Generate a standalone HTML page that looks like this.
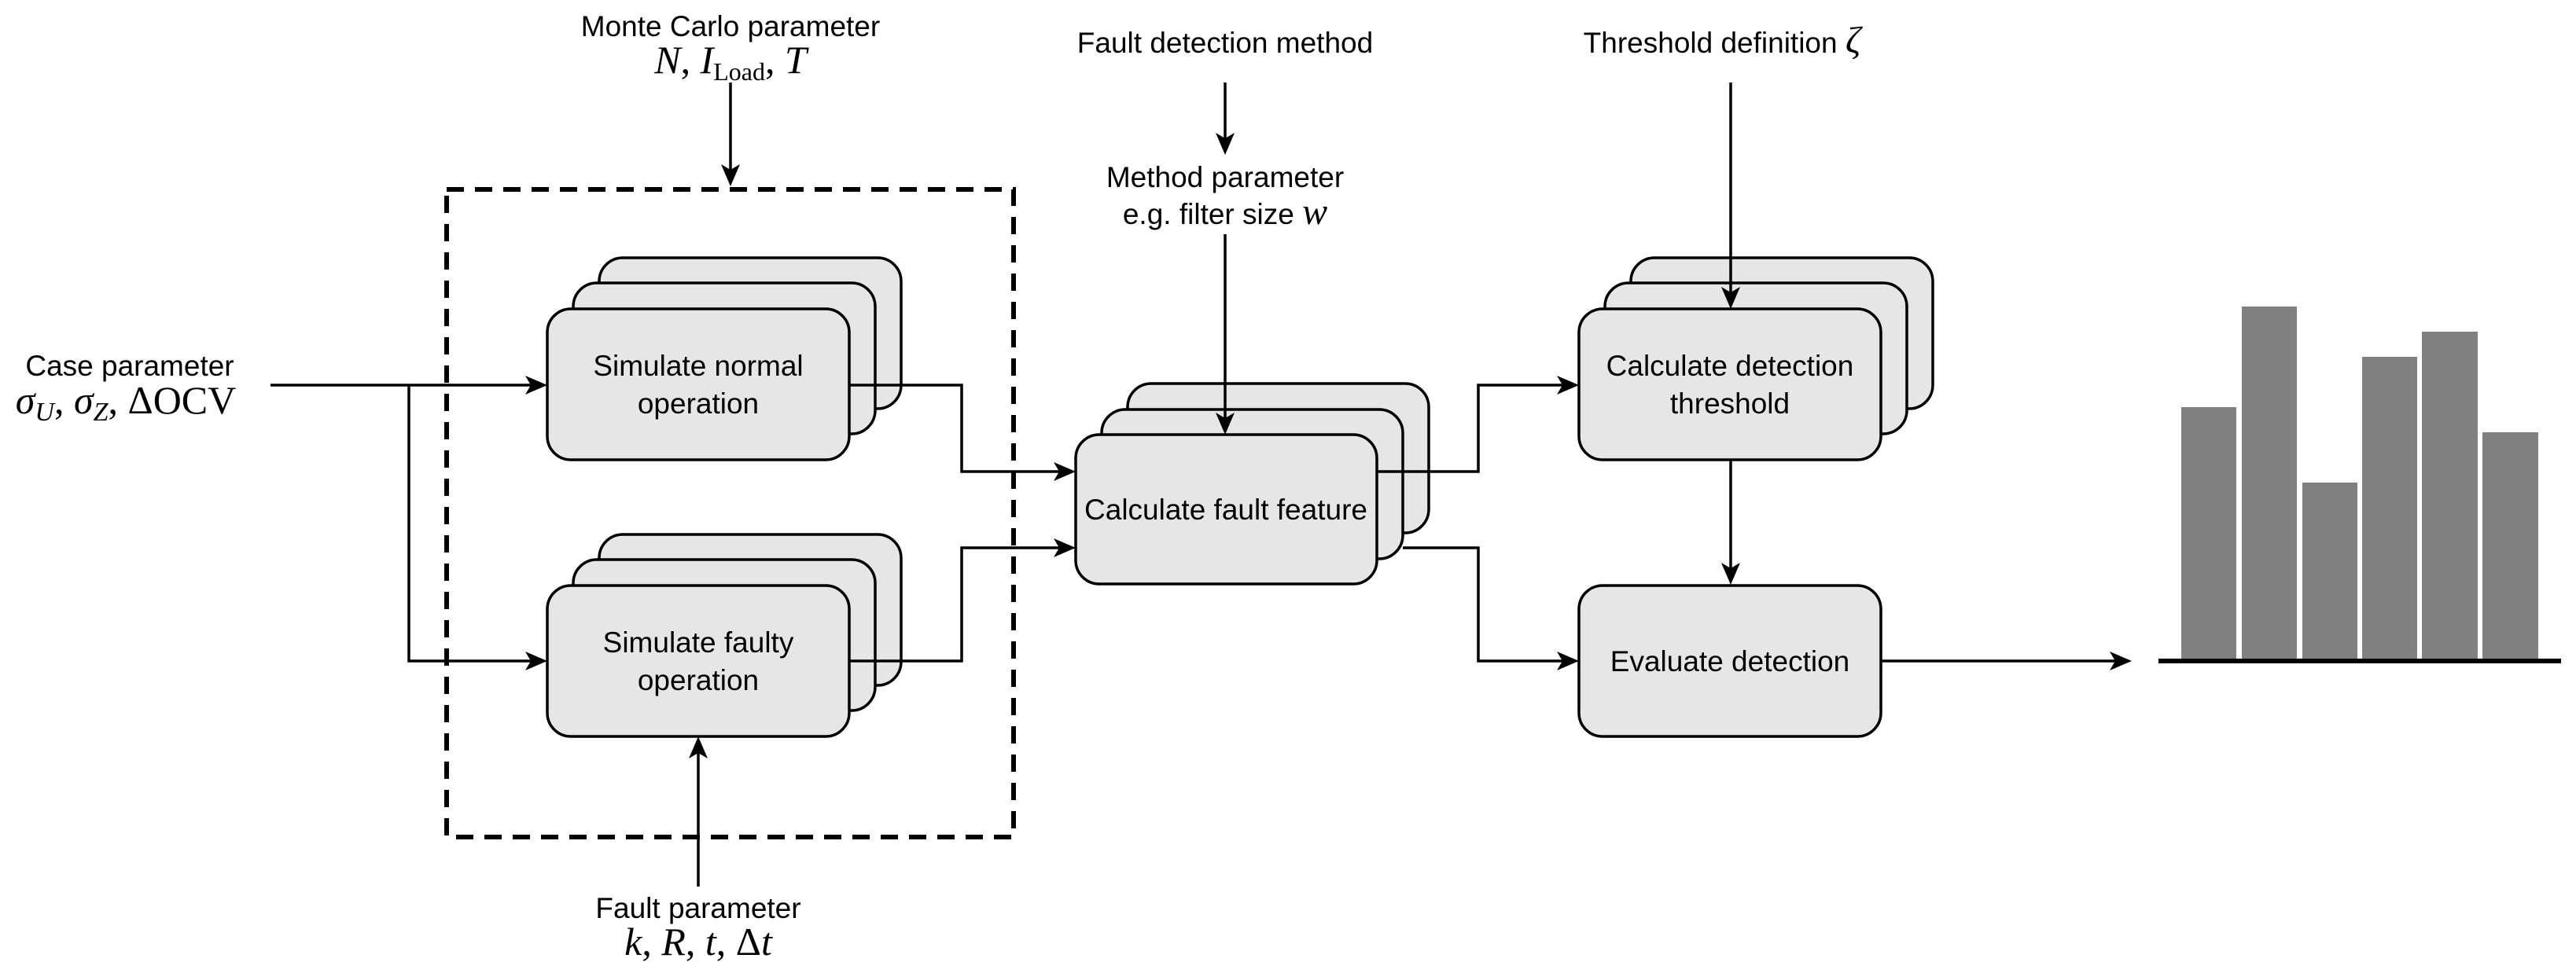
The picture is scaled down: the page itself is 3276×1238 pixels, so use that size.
<!DOCTYPE html>
<html><head><meta charset="utf-8"><style>
html,body{margin:0;padding:0;background:#fff;}
svg{display:block;}
.t{font-family:"Liberation Sans",sans-serif;font-size:37px;fill:#000;text-anchor:middle;}
.m{font-family:"Liberation Serif",serif;font-size:50px;fill:#000;text-anchor:middle;}
.b{fill:#e6e6e6;stroke:#000;stroke-width:3.5;}
.l{fill:none;stroke:#000;stroke-width:3.5;}
</style></head><body>
<svg width="3276" height="1238" viewBox="0 0 3276 1238" xmlns="http://www.w3.org/2000/svg">
<rect x="568" y="241" width="721" height="824" fill="none" stroke="#000" stroke-width="6" stroke-dasharray="22,14"/>

<rect class="b" x="762" y="328" width="384" height="192" rx="30"/>
<rect class="b" x="729" y="360" width="384" height="192" rx="30"/>
<rect class="b" x="696" y="393" width="384" height="192" rx="30"/>
<text class="t" x="888" y="478">Simulate normal</text>
<text class="t" x="888" y="526">operation</text>

<rect class="b" x="762" y="680" width="384" height="192" rx="30"/>
<rect class="b" x="729" y="712" width="384" height="192" rx="30"/>
<rect class="b" x="696" y="745" width="384" height="192" rx="30"/>
<text class="t" x="888" y="830">Simulate faulty</text>
<text class="t" x="888" y="878">operation</text>

<rect class="b" x="1434" y="488" width="383" height="190" rx="30"/>
<rect class="b" x="1401" y="521" width="383" height="190" rx="30"/>
<rect class="b" x="1368" y="553" width="383" height="190" rx="30"/>
<text class="t" x="1559" y="661">Calculate fault feature</text>

<rect class="b" x="2074" y="328" width="384" height="192" rx="30"/>
<rect class="b" x="2041" y="360" width="384" height="192" rx="30"/>
<rect class="b" x="2008" y="393" width="384" height="192" rx="30"/>
<text class="t" x="2200" y="478">Calculate detection</text>
<text class="t" x="2200" y="526">threshold</text>

<rect class="b" x="2008" y="745" width="384" height="192" rx="30"/>
<text class="t" x="2200" y="854">Evaluate detection</text>

<text class="t" x="165" y="478">Case parameter</text>
<text class="m" x="160" y="526"><tspan font-style="italic">σ</tspan><tspan font-style="italic" font-size="34" dy="9">U</tspan><tspan dy="-9">, </tspan><tspan font-style="italic">σ</tspan><tspan font-style="italic" font-size="34" dy="9">Z</tspan><tspan dy="-9">, ΔOCV</tspan></text>

<text class="t" x="929" y="46">Monte Carlo parameter</text>
<text class="m" x="929" y="93"><tspan font-style="italic">N</tspan>, <tspan font-style="italic">I</tspan><tspan font-size="32" dy="9">Load</tspan><tspan dy="-9">, </tspan><tspan font-style="italic">T</tspan></text>

<text class="t" x="888" y="1168">Fault parameter</text>
<text class="m" x="888" y="1215"><tspan font-style="italic">k</tspan>, <tspan font-style="italic">R</tspan>, <tspan font-style="italic">t</tspan>, Δ<tspan font-style="italic">t</tspan></text>

<text class="t" x="1558" y="67">Fault detection method</text>
<text class="t" x="1558" y="238">Method parameter</text>
<text class="t" x="1558" y="285">e.g. filter size <tspan font-family="Liberation Serif" font-style="italic" font-size="48">w</tspan></text>

<text class="t" x="2190" y="67">Threshold definition <tspan font-family="Liberation Serif" font-style="italic" font-size="48">ζ</tspan></text>

<g class="l">
<path d="M344 490 H680"/>
<path d="M520 490 V841 H680"/>
<path d="M1080 490 H1223 V600 H1352"/>
<path d="M1080 841 H1223 V697 H1352"/>
<path d="M929 105 V222"/>
<path d="M888 1128 V953"/>
<path d="M1558 105 V182"/>
<path d="M1558 298 V538"/>
<path d="M1751 600 H1880 V490 H1992"/>
<path d="M1784 697 H1880 V841 H1992"/>
<path d="M2201 105 V377"/>
<path d="M2201 585 V729"/>
<path d="M2392 841 H2693"/>
</g>
<g fill="#000">
<polygon points="696,490 668,478 675,490 668,502"/>
<polygon points="696,841 668,829 675,841 668,853"/>
<polygon points="1368,600 1340,588 1347,600 1340,612"/>
<polygon points="1368,697 1340,685 1347,697 1340,709"/>
<polygon points="929,237 917,209 929,216 941,209"/>
<polygon points="888,937 876,965 888,958 900,965"/>
<polygon points="1558,197 1546,169 1558,176 1570,169"/>
<polygon points="1558,553 1546,525 1558,532 1570,525"/>
<polygon points="2008,490 1980,478 1987,490 1980,502"/>
<polygon points="2008,841 1980,829 1987,841 1980,853"/>
<polygon points="2201,393 2189,365 2201,372 2213,365"/>
<polygon points="2201,744 2189,716 2201,723 2213,716"/>
<polygon points="2711,841 2683,829 2690,841 2683,853"/>
</g>

<g fill="#808080">
<rect x="2774" y="518" width="70" height="323"/>
<rect x="2851" y="390" width="70" height="451"/>
<rect x="2928" y="614" width="70" height="227"/>
<rect x="3004" y="454" width="70" height="387"/>
<rect x="3080" y="422" width="71" height="419"/>
<rect x="3157" y="550" width="71" height="291"/>
</g>
<rect x="2745" y="838" width="512" height="6" fill="#000"/>
</svg>
</body></html>
